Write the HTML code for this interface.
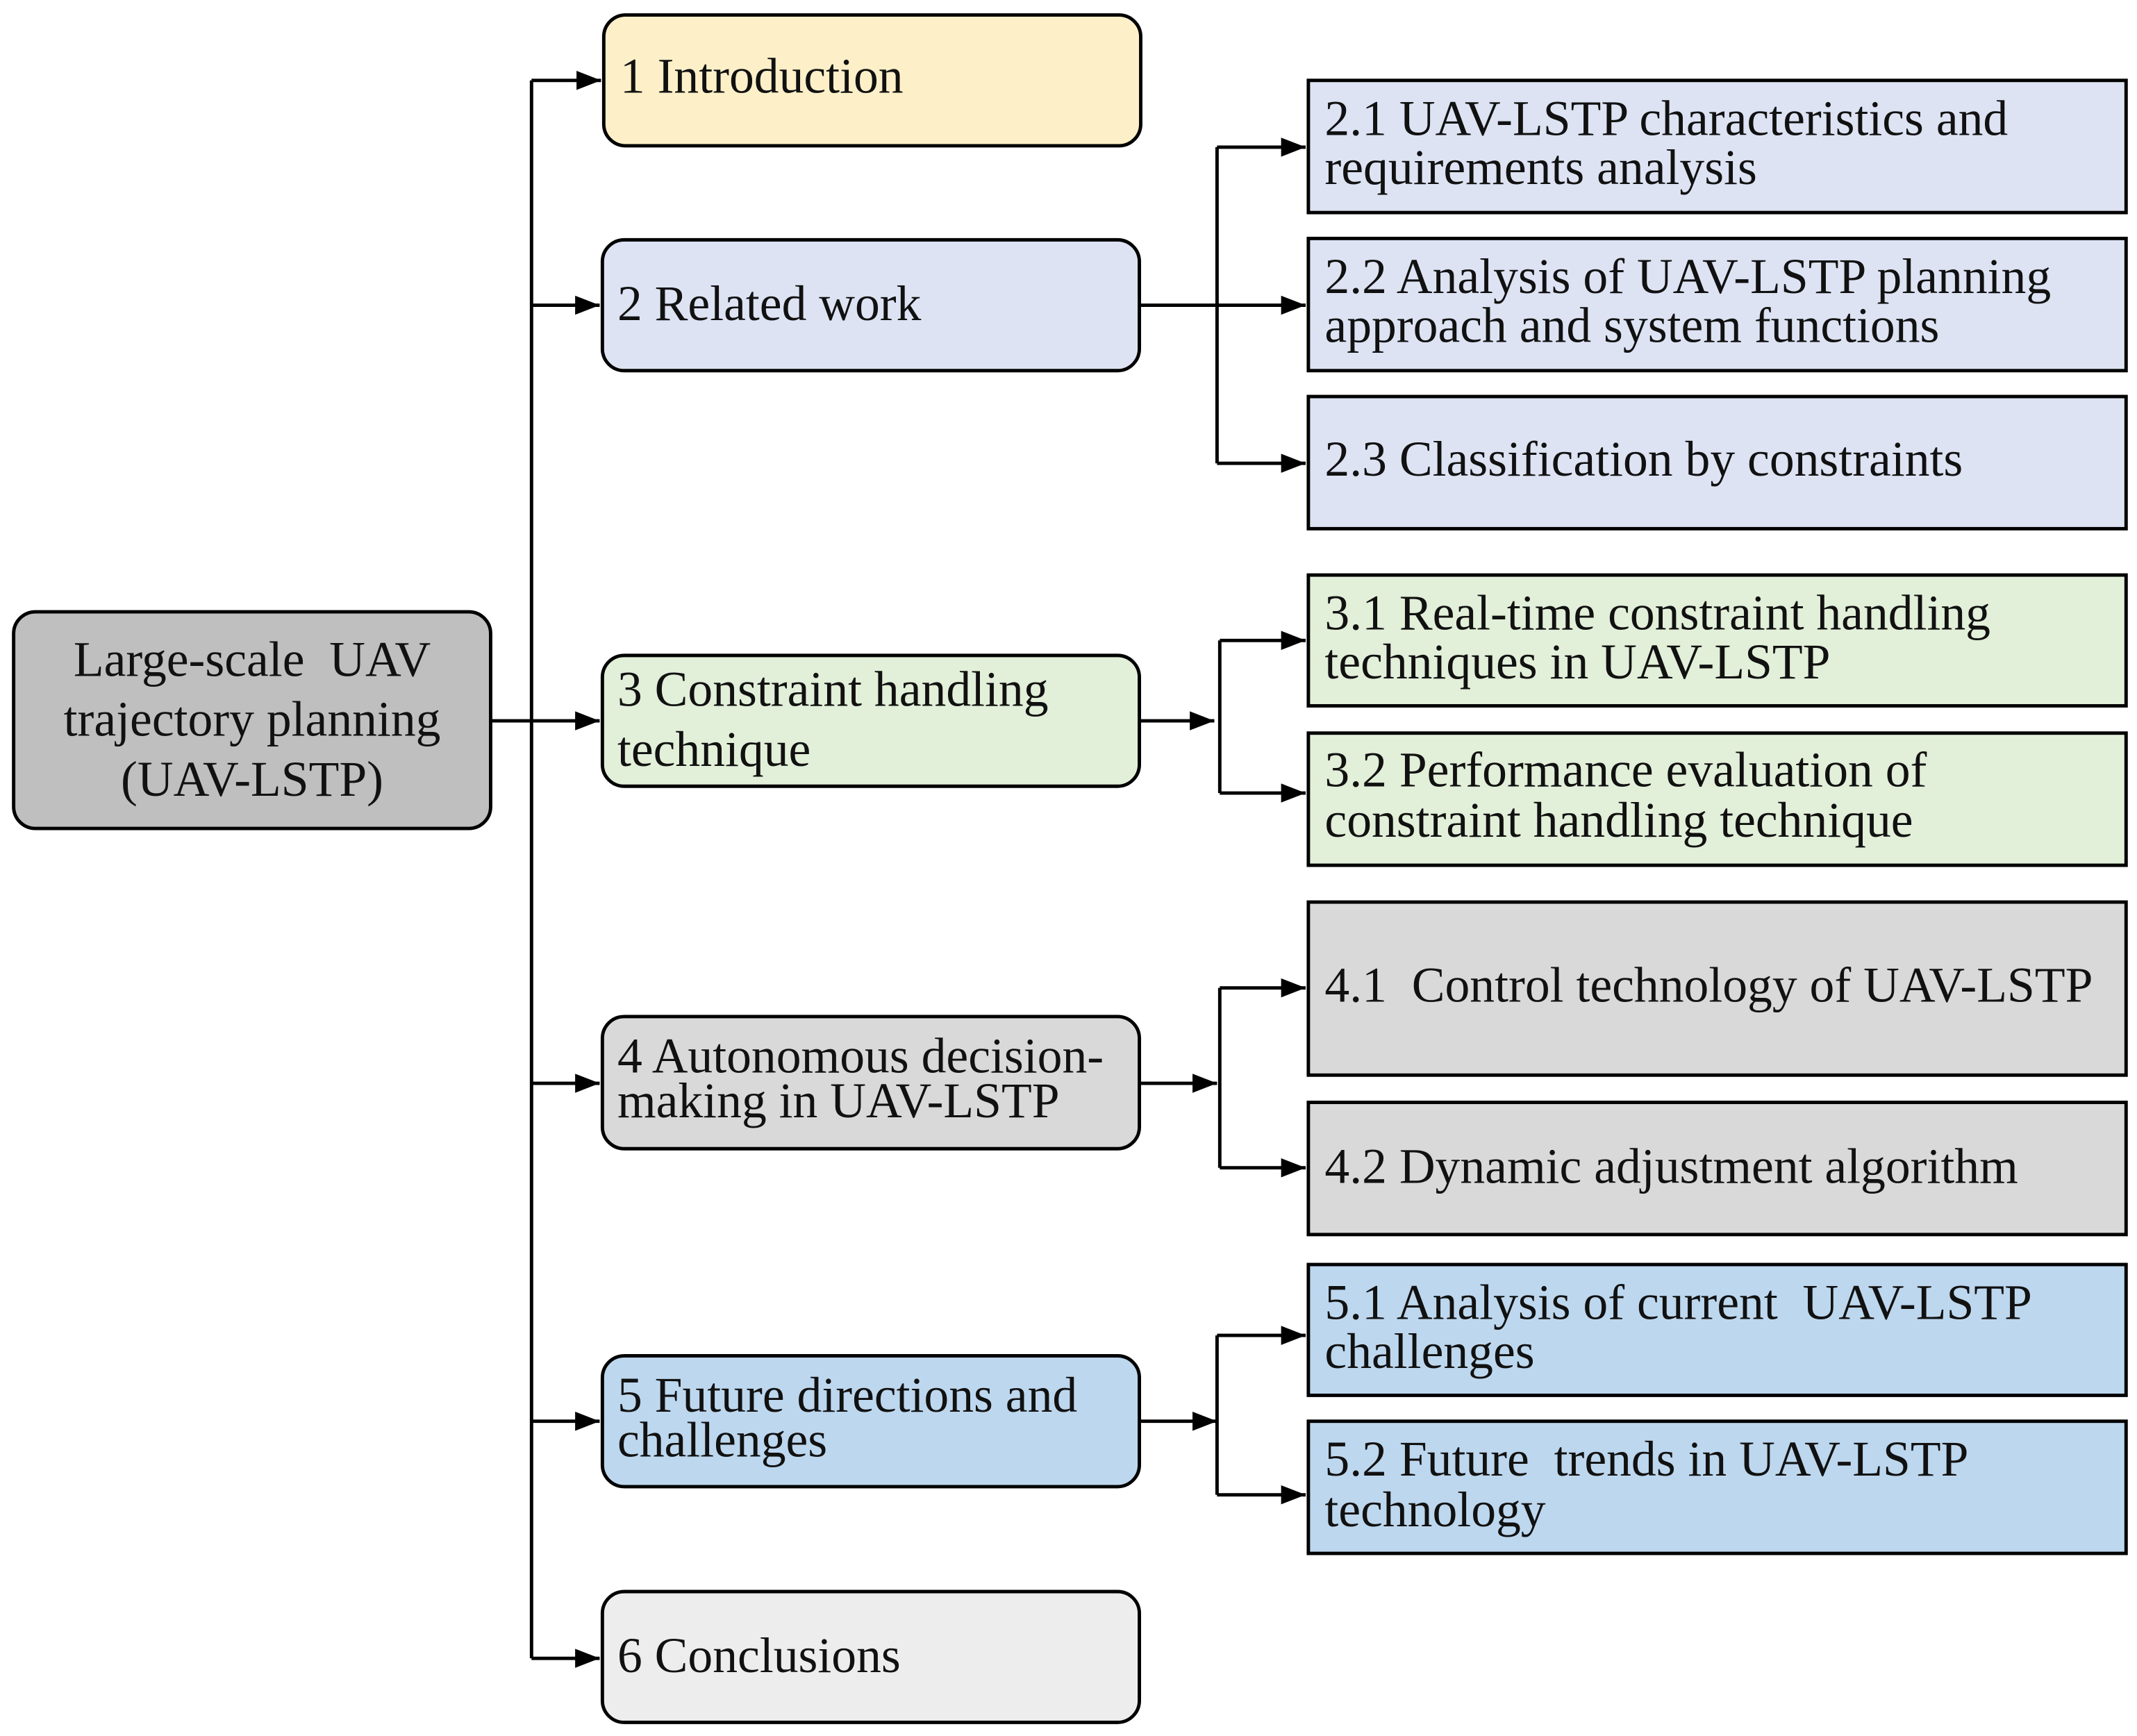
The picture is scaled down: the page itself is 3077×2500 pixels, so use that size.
<!DOCTYPE html>
<html><head><meta charset="utf-8"><style>
html,body{margin:0;padding:0;background:#fff;}
svg{display:block;}
text{font-family:"Liberation Serif",serif;font-size:36.5px;fill:#111;}
</style></head><body>
<svg width="3077" height="2500" viewBox="0 0 1568 1274" preserveAspectRatio="none" xmlns="http://www.w3.org/2000/svg">
<defs>
<marker id="b" markerWidth="20" markerHeight="14" refX="18" refY="7" orient="auto" markerUnits="userSpaceOnUse"><path d="M0,0 L18,7 L0,14 Z" fill="#000"/></marker></defs>
<g stroke="#000" stroke-width="2.5">
<rect x="10" y="449" width="350" height="159" rx="16" fill="#bfbfbf"/>
<rect x="443" y="11" width="394" height="96" rx="16" fill="#fdf0c8"/>
<rect x="442" y="176" width="394" height="96" rx="16" fill="#dde3f3"/>
<rect x="442" y="481" width="394" height="96" rx="16" fill="#e2efd9"/>
<rect x="442" y="746" width="394" height="97" rx="16" fill="#d9d9d9"/>
<rect x="442" y="995" width="394" height="96" rx="16" fill="#bdd7ee"/>
<rect x="442" y="1168" width="394" height="96" rx="16" fill="#ededed"/>
<rect x="960" y="59" width="600" height="97" fill="#dde3f3"/>
<rect x="960" y="175" width="600" height="97" fill="#dde3f3"/>
<rect x="960" y="291" width="600" height="97" fill="#dde3f3"/>
<rect x="960" y="422" width="600" height="96" fill="#e2efd9"/>
<rect x="960" y="538" width="600" height="97" fill="#e2efd9"/>
<rect x="960" y="662" width="600" height="127" fill="#d9d9d9"/>
<rect x="960" y="809" width="600" height="97" fill="#d9d9d9"/>
<rect x="960" y="928" width="600" height="96" fill="#bdd7ee"/>
<rect x="960" y="1043" width="600" height="97" fill="#bdd7ee"/>
<g fill="none">
<path d="M360 529 H390 M390 59 V1217"/>
<path d="M390 59 H441" marker-end="url(#b)"/>
<path d="M390 224 H440" marker-end="url(#b)"/>
<path d="M390 529 H440" marker-end="url(#b)"/>
<path d="M390 795 H440" marker-end="url(#b)"/>
<path d="M390 1043 H440" marker-end="url(#b)"/>
<path d="M390 1217 H440" marker-end="url(#b)"/>
<path d="M836 224 H893 M893 108 V340"/>
<path d="M893 108 H958" marker-end="url(#b)"/>
<path d="M893 224 H958" marker-end="url(#b)"/>
<path d="M893 340 H958" marker-end="url(#b)"/>
<path d="M836 529 H891" marker-end="url(#b)"/>
<path d="M895 470 V582"/>
<path d="M895 470 H958" marker-end="url(#b)"/>
<path d="M895 582 H958" marker-end="url(#b)"/>
<path d="M836 795 H893" marker-end="url(#b)"/>
<path d="M895 725 V857"/>
<path d="M895 725 H958" marker-end="url(#b)"/>
<path d="M895 857 H958" marker-end="url(#b)"/>
<path d="M836 1043 H893" marker-end="url(#b)"/>
<path d="M893 980 V1097"/>
<path d="M893 980 H958" marker-end="url(#b)"/>
<path d="M893 1097 H958" marker-end="url(#b)"/>
</g></g>
<text x="185" y="496" text-anchor="middle" xml:space="preserve">Large-scale  UAV</text>
<text x="185" y="540" text-anchor="middle">trajectory planning</text>
<text x="185" y="584" text-anchor="middle">(UAV-LSTP)</text>
<text x="455" y="68">1 Introduction</text>
<text x="453" y="235">2 Related work</text>
<text x="453" y="518">3 Constraint handling</text>
<text x="453" y="562">technique</text>
<text x="453" y="787">4 Autonomous decision-</text>
<text x="453" y="820">making in UAV-LSTP</text>
<text x="453" y="1036">5 Future directions and</text>
<text x="453" y="1069">challenges</text>
<text x="453" y="1227">6 Conclusions</text>
<text x="972" y="99">2.1 UAV-LSTP characteristics and</text>
<text x="972" y="135">requirements analysis</text>
<text x="972" y="215">2.2 Analysis of UAV-LSTP planning</text>
<text x="972" y="251">approach and system functions</text>
<text x="972" y="349">2.3 Classification by constraints</text>
<text x="972" y="462">3.1 Real-time constraint handling</text>
<text x="972" y="498">techniques in UAV-LSTP</text>
<text x="972" y="577">3.2 Performance evaluation of</text>
<text x="972" y="614">constraint handling technique</text>
<text x="972" y="735" xml:space="preserve">4.1  Control technology of UAV-LSTP</text>
<text x="972" y="868">4.2 Dynamic adjustment algorithm</text>
<text x="972" y="968" xml:space="preserve">5.1 Analysis of current  UAV-LSTP</text>
<text x="972" y="1004">challenges</text>
<text x="972" y="1083" xml:space="preserve">5.2 Future  trends in UAV-LSTP</text>
<text x="972" y="1120">technology</text>
</svg>
</body></html>
